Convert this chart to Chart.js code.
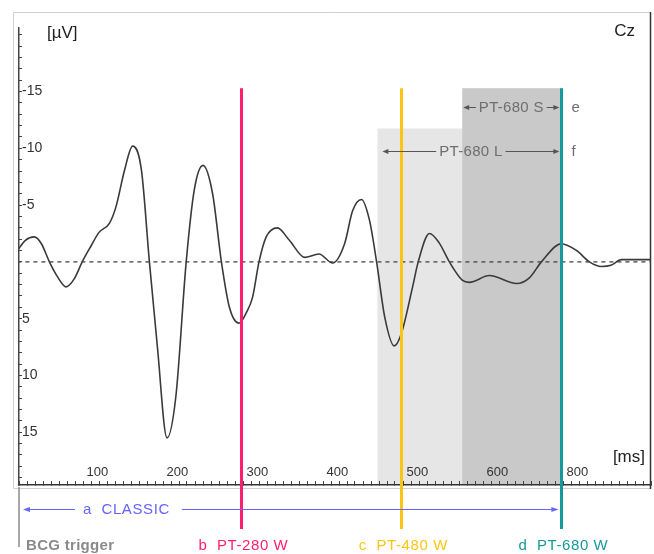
<!DOCTYPE html>
<html>
<head>
<meta charset="utf-8">
<script src="https://cdn.jsdelivr.net/npm/chart.js@4.4.0/dist/chart.umd.min.js"></script>
<style>
  html, body { margin: 0; padding: 0; background: #fff; }
  canvas { display: block; }
</style>
</head>
<body>
<canvas id="erp" width="654" height="554"></canvas>
<script>
// ERP waveform at Cz, time in ms, amplitude in µV (negative up)
const timesMs = [0, 10, 21, 30, 40, 50, 61, 71, 81, 92, 102, 115, 123, 134, 144, 155, 165, 175, 187, 198,
    211, 221, 232, 244, 255, 265, 277, 286, 294, 302, 311, 325, 340, 359, 377, 394, 409, 419, 430, 440,
    449, 459, 471, 480, 494, 501, 515, 527, 540, 556, 565, 590, 624, 640, 655, 680, 699, 715, 730, 742,
    755, 792];
const amplitudes = [-1.0, -1.9, -2.2, -1.6, 0, 1.3, 2.2, 1.5, 0, -1.4, -2.6, -3.4, -4.8, -8.1, -10.2, -8.1, 0, 7.5, 15.5, 11.9,
    0, -6.3, -8.5, -6.0, 0, 4.0, 5.4, 4.5, 3.1, 0, -2.2, -3.0, -1.9, -0.4, -0.7, 0.1, -1.6, -4.5, -5.5, -3.7,
    0, 4.8, 7.4, 6.3, 2.2, 0, -2.5, -1.7, 0, 1.6, 1.8, 1.2, 1.9, 1.4, 0, -1.6, -1.0, 0, 0.4, 0.3,
    -0.2, -0.2];

// axis labels (the original labels the 700 ms tick as "800")
const xTickValues = [100, 200, 300, 400, 500, 600, 700];
const xTickLabels = ['100', '200', '300', '400', '500', '600', '800'];
const yTickValues = [-15, -10, -5, 5, 10, 15];
const yTickLabels = ['-15', '-10', '-5', '5', '10', '15'];

// trigger points and analysis windows
const markerTimes = [280, 480, 680];
const markerLabels = ['b  PT-280 W', 'c  PT-480 W', 'd  PT-680 W'];
const windowNames = ['PT-680 L', 'PT-680 S'];
const windowLetters = ['f', 'e'];
const windowStarts = [450, 556];
const windowEnd = 680;

// styles
const FONT = "'Liberation Sans', Arial, sans-serif";
const markerColors = ['#ff1f6e', '#ffc414', '#16999b'];
const windowFills = ['#e6e6e6', '#c9c9c9'];
const windowTops = [-11.75, -15.3];   // µV level where each shaded box starts
const arrowLevels = [-9.8, -13.6];    // µV level of the window arrows
const markerTop = -15.3;

function arrowHead(ctx, x, y, dir, len, half) {
    ctx.beginPath();
    ctx.moveTo(x, y);
    ctx.lineTo(x - dir * len, y - half);
    ctx.lineTo(x - dir * len, y + half);
    ctx.closePath();
    ctx.fill();
}

const decorPlugin = {
    id: 'decor',
    beforeDraw(chart) {
        const {ctx, chartArea: ca, scales: {x, y}} = chart;
        ctx.save();
        // outer frame
        ctx.strokeStyle = '#d0d0d0';
        ctx.lineWidth = 1;
        ctx.beginPath();
        ctx.moveTo(ca.right, ca.top - 15.5);
        ctx.lineTo(ca.left - 5.5, ca.top - 15.5);
        ctx.lineTo(ca.left - 5.5, ca.bottom + 3.5);
        ctx.lineTo(ca.right, ca.bottom + 3.5);
        ctx.stroke();
        ctx.strokeStyle = '#333';
        ctx.lineWidth = 1.5;
        ctx.beginPath();
        ctx.moveTo(ca.right - 0.5, ca.top - 16);
        ctx.lineTo(ca.right - 0.5, ca.bottom + 4);
        ctx.stroke();
        // shaded analysis windows
        windowStarts.forEach((s, i) => {
            const x0 = x.getPixelForValue(s);
            const x1 = x.getPixelForValue(windowEnd);
            const y0 = y.getPixelForValue(windowTops[i]);
            ctx.fillStyle = windowFills[i];
            ctx.fillRect(x0, y0, x1 - x0, ca.bottom - y0);
        });
        ctx.restore();
    },
    afterDatasetsDraw(chart) {
        const {ctx, chartArea: ca, scales: {x, y}} = chart;
        ctx.save();
        // trigger line
        ctx.strokeStyle = '#8a8a8a';
        ctx.lineWidth = 1.5;
        ctx.beginPath();
        ctx.moveTo(ca.left, ca.bottom + 2);
        ctx.lineTo(ca.left, ca.bottom + 62);
        ctx.stroke();
        // marker lines
        const top = y.getPixelForValue(markerTop);
        markerTimes.forEach((t, i) => {
            const px = Math.round(x.getPixelForValue(t)) + 0.5;
            ctx.strokeStyle = markerColors[i];
            ctx.lineWidth = 3;
            ctx.beginPath();
            ctx.moveTo(px, top);
            ctx.lineTo(px, ca.bottom + 44);
            ctx.stroke();
        });
        ctx.restore();
    },
    afterDraw(chart) {
        const {ctx, chartArea: ca, scales: {x, y}} = chart;
        ctx.save();
        ctx.textBaseline = 'middle';

        // x tick labels sit inside the plot, just above the axis
        ctx.fillStyle = '#333';
        ctx.font = '13px ' + FONT;
        ctx.textAlign = 'center';
        xTickValues.forEach((v, i) => {
            ctx.fillText(xTickLabels[i], x.getPixelForValue(v), ca.bottom - 13);
        });

        ctx.fillStyle = '#222';
        ctx.font = '17px ' + FONT;
        ctx.textAlign = 'left';
        ctx.fillText('[µV]', ca.left + 28, ca.top + 5);
        ctx.textAlign = 'right';
        ctx.fillText('Cz', ca.right - 16, ca.top + 3);
        ctx.fillText('[ms]', ca.right - 6, ca.bottom - 28);

        // window arrows
        ctx.font = '15px ' + FONT;
        ctx.letterSpacing = '0.3px';
        ctx.textAlign = 'center';
        windowNames.forEach((name, i) => {
            const xa = x.getPixelForValue(windowStarts[i]) + (i === 0 ? 5 : 1);
            const xb = x.getPixelForValue(windowEnd) - 2;
            const ya = Math.round(y.getPixelForValue(arrowLevels[i])) + 0.5;
            const mid = (xa + xb) / 2;
            const half = ctx.measureText(name).width / 2 + 3;
            ctx.strokeStyle = '#555';
            ctx.fillStyle = '#555';
            ctx.lineWidth = 1;
            ctx.beginPath();
            ctx.moveTo(xa + 4, ya);
            ctx.lineTo(mid - half, ya);
            ctx.moveTo(mid + half, ya);
            ctx.lineTo(xb - 4, ya);
            ctx.stroke();
            arrowHead(ctx, xa, ya, -1, 6, 2.5);
            arrowHead(ctx, xb, ya, 1, 6, 2.5);
            ctx.fillStyle = '#6e6e6e';
            ctx.fillText(name, mid, ya);
            ctx.textAlign = 'left';
            ctx.fillText(windowLetters[i], x.getPixelForValue(windowEnd) + 10, ya);
            ctx.textAlign = 'center';
        });

        // classic window arrow
        const yb = ca.bottom + 24.5;
        const xs = ca.left + 4;
        const xe = x.getPixelForValue(windowEnd) - 3;
        ctx.strokeStyle = '#6464ff';
        ctx.fillStyle = '#6464ff';
        ctx.lineWidth = 1.2;
        ctx.font = '15px ' + FONT;
        ctx.letterSpacing = '0.6px';
        const label = 'a  CLASSIC';
        const lw = ctx.measureText(label).width;
        const tx = xs + 60;
        ctx.beginPath();
        ctx.moveTo(xs + 5, yb);
        ctx.lineTo(tx - 8, yb);
        ctx.moveTo(tx + lw + 12, yb);
        ctx.lineTo(xe - 5, yb);
        ctx.stroke();
        arrowHead(ctx, xs, yb, -1, 7, 2.5);
        arrowHead(ctx, xe, yb, 1, 7, 2.5);
        ctx.textAlign = 'left';
        ctx.fillText(label, tx, yb);

        // bottom labels
        const yl = ca.bottom + 61;
        ctx.font = 'bold 15px ' + FONT;
        ctx.letterSpacing = '0.3px';
        ctx.fillStyle = '#8a8a8a';
        ctx.fillText('BCG trigger', ca.left + 7, yl);
        ctx.font = '15px ' + FONT;
        ctx.letterSpacing = '0.6px';
        ctx.textAlign = 'center';
        markerTimes.forEach((t, i) => {
            ctx.fillStyle = markerColors[i];
            ctx.fillText(markerLabels[i], x.getPixelForValue(t) + 2, yl);
        });
        ctx.restore();
    }
};

const waveform = timesMs.map((t, i) => ({x: t, y: amplitudes[i]}));

new Chart(document.getElementById('erp'), {
    type: 'line',
    data: {
        datasets: [{
            label: 'baseline',
            data: [{x: 0, y: 0}, {x: 792, y: 0}],
            borderColor: '#444',
            borderWidth: 1.3,
            borderDash: [4, 4],
            pointRadius: 0,
        }, {
            label: 'Cz',
            data: waveform,
            borderColor: '#3a3a3a',
            borderWidth: 1.6,
            pointRadius: 0,
            cubicInterpolationMode: 'monotone',
        }]
    },
    options: {
        responsive: false,
        animation: false,
        layout: { padding: { left: 19, right: 3, top: 28, bottom: 69 } },
        scales: {
            x: {
                type: 'linear',
                min: 2,
                max: 792,
                afterFit: s => { s.height = 0; },
                ticks: {
                    display: false,
                    stepSize: 10,
                    autoSkip: false,
                    includeBounds: false,
                    maxRotation: 0
                },
                grid: { drawOnChartArea: false, tickLength: -4, tickColor: '#444', tickWidth: 1 },
                border: { color: '#333', width: 1.5 }
            },
            y: {
                type: 'linear',
                reverse: true,
                min: -20.6,
                max: 19.65,
                afterFit: s => { s.width = 0; },
                ticks: {
                    stepSize: 1,
                    autoSkip: false,
                    includeBounds: false,
                    mirror: true,
                    padding: 3,
                    color: '#333',
                    font: { size: 14, family: FONT },
                    callback: v => {
                        const i = yTickValues.indexOf(Math.round(v));
                        return i >= 0 ? yTickLabels[i] : '';
                    }
                },
                grid: { drawOnChartArea: false, tickLength: -3, tickColor: '#444', tickWidth: 1 },
                border: { color: '#444', width: 1.5 }
            }
        },
        plugins: {
            legend: { display: false },
            tooltip: { enabled: false }
        }
    },
    plugins: [decorPlugin]
});
</script>
</body>
</html>
